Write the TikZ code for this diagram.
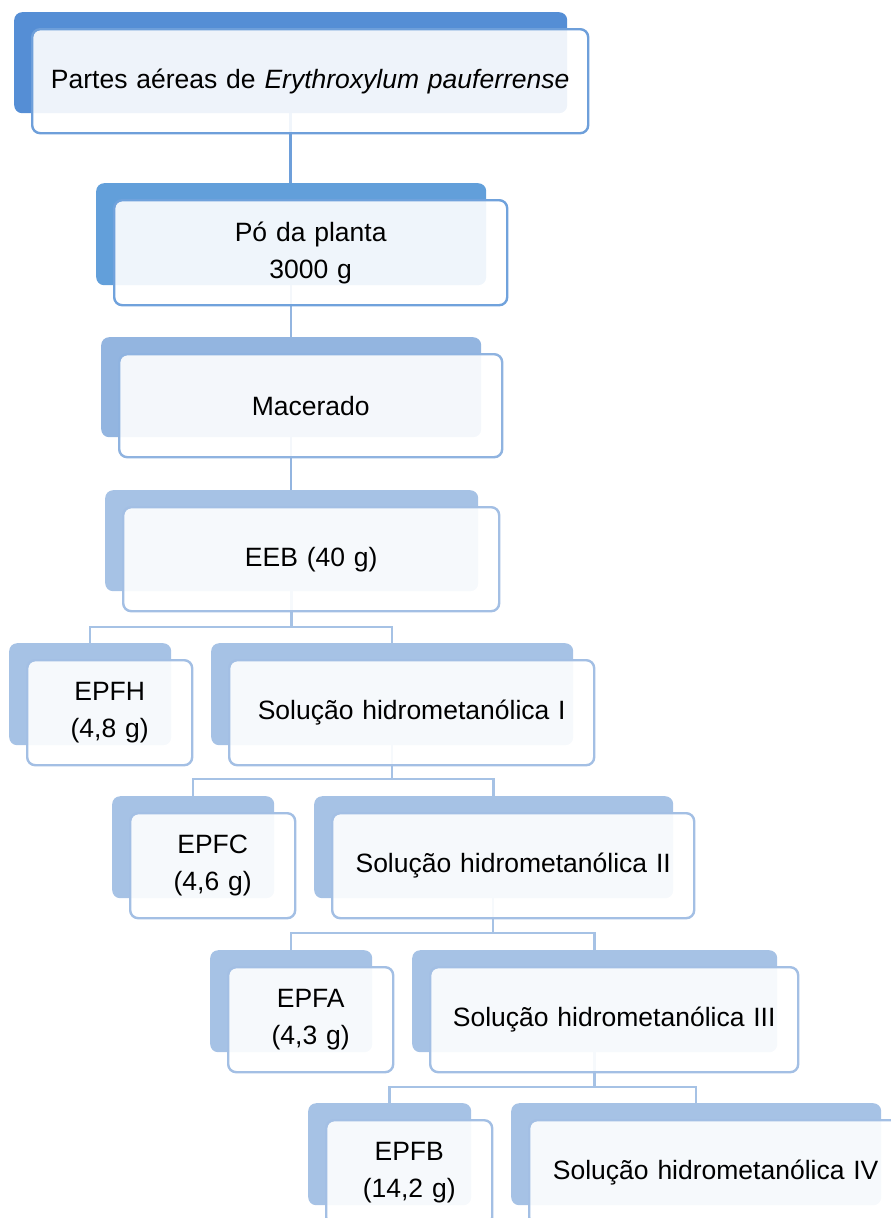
\documentclass[tikz,border=0pt]{standalone}
\usepackage{fontspec}
\setmainfont{Liberation Sans}
\usetikzlibrary{calc}
\definecolor{bkA}{HTML}{558ED5}
\definecolor{bdA}{HTML}{6E9FDA}
\definecolor{bkB}{HTML}{629FDA}
\definecolor{bdB}{HTML}{70A2DC}
\definecolor{bkC}{HTML}{93B5E0}
\definecolor{bdC}{HTML}{8FB3E0}
\definecolor{bkD}{HTML}{A6C2E5}
\definecolor{bdD}{HTML}{A3BFE4}
\tikzset{
  backbox/.style={draw=none, rounded corners=8pt, anchor=north west, inner sep=0pt},
  frontbox/.style={rounded corners=8pt, anchor=north west, inner sep=0pt, line width=2.4pt,
     fill=white, fill opacity=0.9, text opacity=1, align=center,
     font=\fontsize{26.5}{37}\selectfont},
  conn/.style={line width=2.4pt},
}
% \mybox{name}{x1}{y1}{x2}{y2}{back colour}{border colour}{text}
\newcommand{\mybox}[8]{%
  \node[backbox, fill=#6, minimum width={(#4-#2)*1pt}, minimum height={(#5-#3)*1pt}]
     (#1b) at (#2,#3) {};
  \node[frontbox, draw=#7, minimum width={(#4-#2+3)*1pt}, minimum height={(#5-#3+3)*1pt},
     text width={(#4-#2-6)*1pt}]
     (#1) at (#2+17,#3+16) {#8};
}
\begin{document}
\begin{tikzpicture}[x=1pt,y=-1pt]
\useasboundingbox (0,0) rectangle (891,1218);
\clip (0,0) rectangle (891,1218);
% connectors (drawn first, under the boxes)
\coordinate (pA) at (290.5,113);
\coordinate (pB) at (291,285);
\coordinate (pC) at (291,437);
\coordinate (pD) at (291.5,591);
\coordinate (j4) at (291.5,627);
\coordinate (pS1) at (392,744);
\coordinate (j5) at (392,779);
\coordinate (pS2) at (493,898);
\coordinate (j6) at (493,933);
\coordinate (pS3) at (594.5,1052);
\coordinate (j7) at (594.5,1087);
\coordinate (cB) at (290.5,183);
\coordinate (cC) at (291,337);
\coordinate (cD) at (291,490);
\coordinate (cH) at (90,643);
\coordinate (cS1) at (392,643);
\coordinate (cC2) at (193,796);
\coordinate (cS2) at (493.5,796);
\coordinate (cA) at (291,950);
\coordinate (cS3) at (594.5,950);
\coordinate (cB2) at (389.5,1103);
\coordinate (cS4) at (696,1103);
\draw[conn, draw=bdA] (pA) -- (cB);
\draw[conn, draw=bkC] (pB) -- (cC);
\draw[conn, draw=bkC] (pC) -- (cD);
\draw[conn, draw=bkD] (pD) -- (j4);
\draw[conn, draw=bkD] (cH) |- (j4) -| (cS1);
\draw[conn, draw=bkD] (pS1) -- (j5);
\draw[conn, draw=bkD] (cC2) |- (j5) -| (cS2);
\draw[conn, draw=bkD] (pS2) -- (j6);
\draw[conn, draw=bkD] (cA) |- (j6) -| (cS3);
\draw[conn, draw=bkD] (pS3) -- (j7);
\draw[conn, draw=bkD] (cB2) |- (j7) -| (cS4);
% boxes
\mybox{b1}{14}{12}{567}{113}{bkA}{bdA}{Partes aéreas de \textit{Erythroxylum pauferrense}}
\mybox{b2}{96}{183}{486}{285}{bkB}{bdB}{Pó da planta\\3000 g}
\mybox{b3}{101}{337}{481}{437}{bkC}{bdC}{Macerado}
\mybox{b4}{105}{490}{478}{591}{bkD}{bdD}{EEB (40 g)}
\mybox{h}{9}{643}{171}{745}{bkD}{bdD}{EPFH\\(4,8 g)}
\mybox{s1}{211}{643}{573}{745}{bkD}{bdD}{Solução hidrometanólica I}
\mybox{c}{112}{796}{274}{898}{bkD}{bdD}{EPFC\\(4,6 g)}
\mybox{s2}{314}{796}{673}{898}{bkD}{bdD}{Solução hidrometanólica II}
\mybox{a}{210}{950}{372}{1052}{bkD}{bdD}{EPFA\\(4,3 g)}
\mybox{s3}{412}{950}{777}{1052}{bkD}{bdD}{Solução hidrometanólica III}
\mybox{f}{308}{1103}{471}{1205}{bkD}{bdD}{EPFB\\(14,2 g)}
\mybox{s4}{511}{1103}{881}{1205}{bkD}{bdD}{Solução hidrometanólica IV}
\end{tikzpicture}
\end{document}
